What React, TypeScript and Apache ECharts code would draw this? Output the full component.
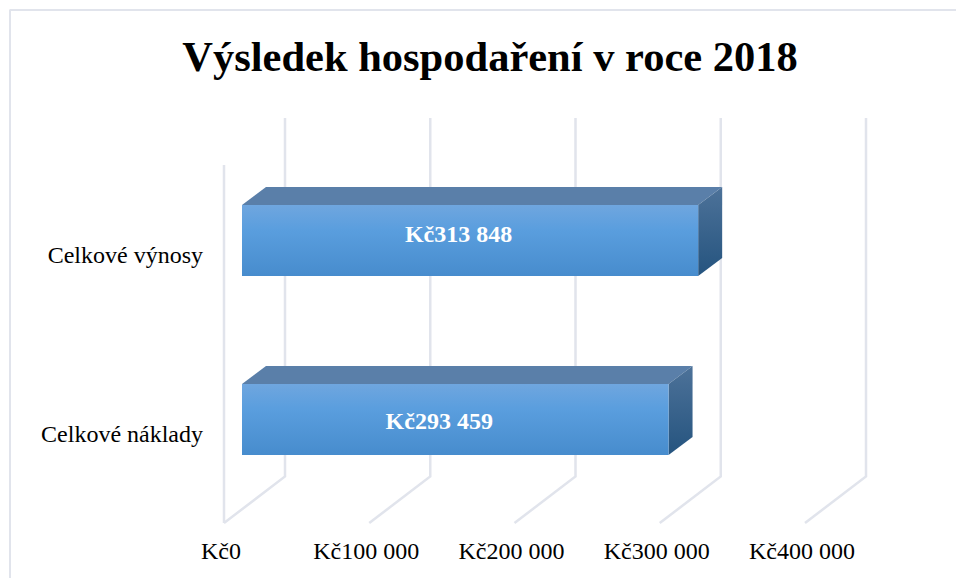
import React, { useEffect, useRef } from "react";
import * as echarts from "echarts";

const titleText = "Výsledek hospodaření v roce 2018";
const categories = ["Celkové náklady", "Celkové výnosy"];
const values = [293459, 313848];
const barLabels = ["Kč293 459", "Kč313 848"];
const xTicks = [0, 100000, 200000, 300000, 400000];

const SERIF = '"Liberation Serif", "Times New Roman", serif';
const GRID_COLOR = "#e1e4ec";

const formatKc = (v: number) =>
  "Kč" + String(v).replace(/\B(?=(\d{3})+(?!\d))/g, " ");

function renderWalls(params: any, api: any) {
  const v = api.value(0);
  const sys = params.coordSys;
  const x = api.coord([v, 0])[0];
  const bottom = sys.y + sys.height;
  const children: any[] = [
    {
      type: "polyline",
      shape: {
        points: [
          [x, bottom],
          [x + 61, bottom - 46.5],
          [x + 61, sys.y - 47],
        ],
      },
      style: { stroke: GRID_COLOR, lineWidth: 2.5, fill: "none" },
    },
  ];
  if (v === 0) {
    children.push({
      type: "line",
      shape: { x1: x, y1: sys.y, x2: x, y2: bottom },
      style: { stroke: GRID_COLOR, lineWidth: 2.5 },
    });
  }
  return { type: "group", children };
}

function renderBar(params: any, api: any) {
  const val = api.value(0);
  const idx = api.value(1);
  const [xEnd, yc] = api.coord([val, idx]);
  const [xZero] = api.coord([0, idx]);
  const band = api.size([0, 1])[1];
  const h = band * 0.397;
  const l = xZero + 18;
  const r = xEnd + 18.3;
  const t = yc - 14 - h / 2;
  const b = t + h;
  const dx = 24;
  const dy = 18;
  const labelDx = idx === 1 ? -11.5 : -16;
  const labelDy = idx === 1 ? -6.5 : 1.5;
  return {
    type: "group",
    children: [
      {
        type: "polygon",
        shape: { points: [[l, t], [l + dx, t - dy], [r + dx, t - dy], [r, t]] },
        style: { fill: "#5a7fa9" },
      },
      {
        type: "polygon",
        shape: { points: [[r, t], [r + dx, t - dy], [r + dx, b - dy], [r, b]] },
        style: {
          fill: new echarts.graphic.LinearGradient(0, 0, 0, 1, [
            { offset: 0, color: "#4d7299" },
            { offset: 1, color: "#25547f" },
          ]),
        },
      },
      {
        type: "rect",
        shape: { x: l, y: t, width: r - l, height: h },
        style: {
          fill: new echarts.graphic.LinearGradient(0, 0, 0, 1, [
            { offset: 0, color: "#6fa6df" },
            { offset: 0.35, color: "#5a9ede" },
            { offset: 1, color: "#478ccd" },
          ]),
        },
      },
      {
        type: "text",
        style: {
          text: barLabels[params.dataIndex],
          x: (l + r) / 2 + labelDx,
          y: yc - 14 + labelDy,
          align: "center",
          verticalAlign: "middle",
          fill: "#ffffff",
          font: `bold 24px ${SERIF}`,
        },
      },
    ],
  };
}

export default function App() {
  const ref = useRef<HTMLDivElement>(null);
  useEffect(() => {
    const chart = echarts.init(ref.current!, null, { renderer: "svg" });
    chart.setOption({
      animation: false,
      backgroundColor: "#ffffff",
      title: {
        text: titleText,
        left: 485,
        top: 30,
        textAlign: "center",
        textStyle: {
          fontFamily: SERIF,
          fontSize: 42.5,
          fontWeight: "bold",
          color: "#000000",
        },
      },
      grid: { left: 224, top: 165, width: 581, height: 358 },
      xAxis: {
        type: "value",
        min: 0,
        max: 400000,
        interval: 100000,
        axisLine: { show: false },
        axisTick: { show: false },
        splitLine: { show: false },
        axisLabel: {
          formatter: (v: number) => formatKc(v),
          fontFamily: SERIF,
          fontSize: 24,
          color: "#000000",
          margin: 16,
          padding: [0, 6, 0, 0],
          showMaxLabel: true,
          showMinLabel: true,
        },
      },
      yAxis: {
        type: "category",
        data: categories,
        axisLine: { show: false },
        axisTick: { show: false },
        splitLine: { show: false },
        axisLabel: {
          fontFamily: SERIF,
          fontSize: 24,
          color: "#000000",
          margin: 21,
        },
      },
      graphic: [
        {
          type: "line",
          shape: { x1: 9.5, y1: 10, x2: 956, y2: 10 },
          style: { stroke: GRID_COLOR, lineWidth: 2 },
        },
        {
          type: "line",
          shape: { x1: 10, y1: 10, x2: 10, y2: 578 },
          style: { stroke: GRID_COLOR, lineWidth: 2 },
        },
      ],
      series: [
        {
          type: "custom",
          coordinateSystem: "cartesian2d",
          renderItem: renderWalls,
          encode: { x: 0, y: 1 },
          data: xTicks.map((v) => [v, 0]),
          z: 1,
          silent: true,
        },
        {
          type: "custom",
          coordinateSystem: "cartesian2d",
          renderItem: renderBar,
          encode: { x: 0, y: 1 },
          data: values.map((v, i) => [v, i]),
          z: 2,
          silent: true,
        },
      ],
    });
    return () => chart.dispose();
  }, []);
  return (
    <div
      ref={ref}
      style={{ position: "fixed", left: 0, top: 0, width: 956, height: 578 }}
    />
  );
}
